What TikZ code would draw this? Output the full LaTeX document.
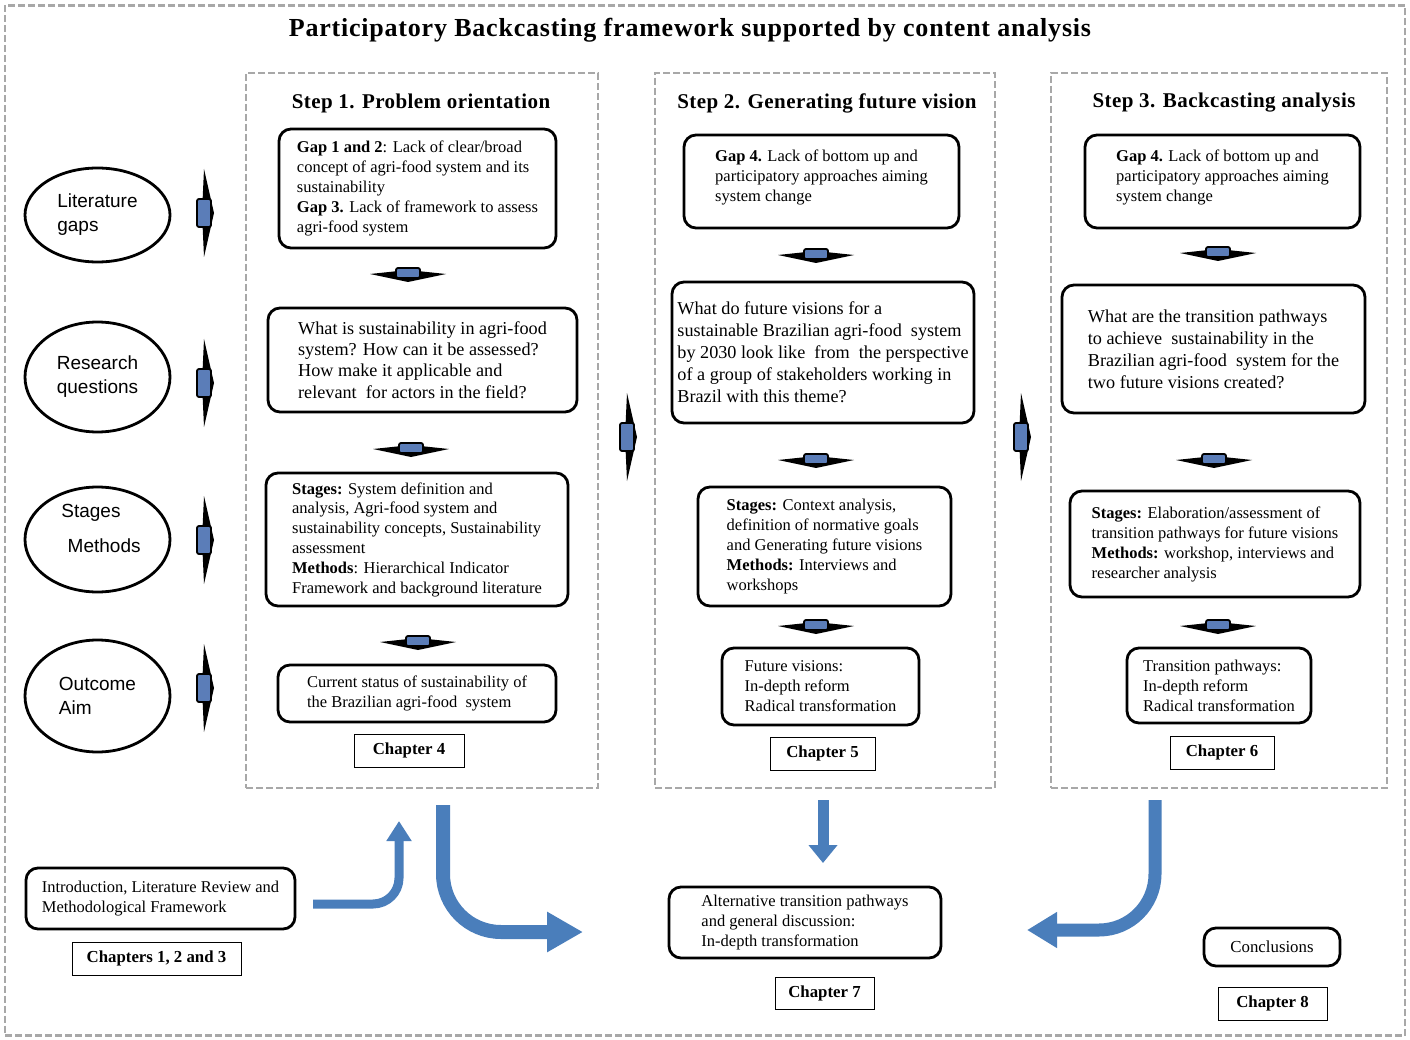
\documentclass[tikz,border=0pt]{standalone}
\usepackage{fontspec}
\setmainfont{Liberation Serif}
\newfontfamily\arialf{Liberation Sans}
\usetikzlibrary{arrows.meta,shapes.geometric}
\definecolor{bluec}{HTML}{4A7EBB}
\definecolor{chevblue}{HTML}{5B7DB8}
\definecolor{dashgray}{HTML}{A8A8A8}
\newcommand{\fsz}[2]{\fontsize{#1}{#2}\selectfont}
\tikzset{
  panel/.style={draw=dashgray, line width=2.5pt, dash pattern=on 7pt off 3pt, inner sep=0pt},
  rbox/.style={draw=black, line width=2.8pt, rounded corners=12pt, inner sep=2pt, align=left},
  chap/.style={draw=black, line width=1pt, inner sep=0pt, font=\bfseries\fsz{16.8}{18}},
  ell/.style={draw=black, ellipse, line width=2.8pt, inner sep=0pt, align=left, font=\arialf\fsz{19}{24}},
  barrow/.style={draw=bluec, line cap=butt},
  rightchev/.pic={
    \fill[black] (-1,-44) -- (9,0) -- (-1,44) -- (-3,0) -- cycle;
    \draw[black, line width=1.8pt, fill=chevblue, rounded corners=2pt] (-8,-14) rectangle (6,14);
  },
  downchev/.pic={
    \fill[black] (-38,0) -- (0,-4) -- (38,0) -- (0,8) -- cycle;
    \draw[black, line width=1.8pt, fill=chevblue, rounded corners=2pt] (-12,-6) rectangle (12,4);
  }
}
\begin{document}
\begin{tikzpicture}[x=1pt,y=-1pt]
\useasboundingbox (0,0) rectangle (1410,1040);
\fill[white] (0,0) rectangle (1410,1040);
\node[panel, minimum width=1400, minimum height=1030] (frame) at (705,520.5) {};
\node[font=\bfseries\fsz{26}{28}\addfontfeatures{LetterSpace=3}] (title) at (690,30) {Participatory Backcasting framework supported by content analysis};

% panels
\node[panel, minimum width=352, minimum height=715] (p1) at (422,430.5) {};
\node[panel, minimum width=340, minimum height=715] (p2) at (825,430.5) {};
\node[panel, minimum width=336, minimum height=715] (p3) at (1219,430.5) {};
\node[font=\bfseries\fsz{21}{23}\addfontfeatures{LetterSpace=2}] (h1) at (421,103) {Step 1. Problem orientation};
\node[font=\bfseries\fsz{21}{23}\addfontfeatures{LetterSpace=2}] (h2) at (827,103) {Step 2. Generating future vision};
\node[font=\bfseries\fsz{21}{23}\addfontfeatures{LetterSpace=2}] (h3) at (1224,103) {Step 3. Backcasting analysis};

% left ellipses
\node[ell, minimum width=145, minimum height=94] (e1) at (97.5,215) {Literature\\gaps};
\node[ell, minimum width=145, minimum height=110] (e2) at (97.5,377) {Research\\questions};
\node[ell, minimum width=145, minimum height=105] (e3) at (97.5,539.5) {};
\node[align=left, inner sep=0pt, font=\arialf\fsz{19}{35}] (e3t) at (101,528.5) {Stages\\\,\,Methods};
\node[ell, minimum width=145, minimum height=112] (e4) at (97.5,696) {Outcome\\Aim};

% right chevrons
\pic at (205,213) {rightchev};
\pic at (205,383) {rightchev};
\pic at (205,540) {rightchev};
\pic at (205,688) {rightchev};
\pic at (628,437) {rightchev};
\pic at (1022,437) {rightchev};

% Step 1
\node[rbox, minimum width=277, minimum height=119, font=\fsz{16.5}{20}] (g12) at (417.5,188.5)
 {\textbf{Gap 1 and 2}: Lack of clear/broad\\concept of agri-food system and its\\sustainability\\\textbf{Gap 3.} Lack of framework to assess\\agri-food system};
\node[rbox, minimum width=309, minimum height=104, font=\fsz{18.2}{21.3}] (rq1) at (422.5,360)
 {What is sustainability in agri-food\\system? How can it be assessed?\\How make it applicable and\\relevant\ \ for actors in the field?};
\node[rbox, minimum width=302, minimum height=133, font=\fsz{16.5}{19.8}] (st1) at (417,539.5)
 {\textbf{Stages:} System definition and\\analysis, Agri-food system and\\sustainability concepts, Sustainability\\assessment\\\textbf{Methods}: Hierarchical Indicator\\Framework and background literature};
\node[rbox, minimum width=278, minimum height=57, font=\fsz{16.5}{20}] (out1) at (417,693.5)
 {Current status of sustainability of\\the Brazilian agri-food\ \ system};
\node[chap, minimum width=110, minimum height=33] (c4) at (409,750.5) {Chapter 4};
\pic at (408,274) {downchev};
\pic at (411,449) {downchev};
\pic at (418,642) {downchev};

% Step 2
\node[rbox, minimum width=275, minimum height=93, font=\fsz{16.5}{20}] (g4a) at (821.5,181.5)
 {\textbf{Gap 4.} Lack of bottom up and\\participatory approaches aiming\\system change\\[-8pt]};
\node[rbox, minimum width=302, minimum height=141, font=\fsz{18.2}{22}] (rq2) at (823,352.5)
 {What do future visions for a\\sustainable Brazilian agri-food\ \ system\\by 2030 look like\ \ from\ \ the perspective\\of a group of stakeholders working in\\Brazil with this theme?};
\node[rbox, minimum width=253, minimum height=119, font=\fsz{16.5}{20}] (st2) at (824.5,546.5)
 {\textbf{Stages:} Context analysis,\\definition of normative goals\\and Generating future visions\\\textbf{Methods:} Interviews and\\workshops};
\node[rbox, minimum width=197, minimum height=77, font=\fsz{16.5}{20}] (out2) at (820.5,686.5)
 {Future visions:\\In-depth reform\\Radical transformation};
\node[chap, minimum width=105, minimum height=33] (c5) at (822.5,753.5) {Chapter 5};
\pic at (816,255) {downchev};
\pic at (816,460) {downchev};
\pic at (816,626) {downchev};

% Step 3
\node[rbox, minimum width=275, minimum height=93, font=\fsz{16.5}{20}] (g4b) at (1222.5,181.5)
 {\textbf{Gap 4.} Lack of bottom up and\\participatory approaches aiming\\system change\\[-8pt]};
\node[rbox, minimum width=303, minimum height=128, font=\fsz{18.2}{22}] (rq3) at (1213.5,349)
 {What are the transition pathways\\to achieve\ \ sustainability in the\\Brazilian agri-food\ \ system for the\\two future visions created?};
\node[rbox, minimum width=290, minimum height=106, font=\fsz{16.5}{20}] (st3) at (1215,544)
 {\textbf{Stages:} Elaboration/assessment of\\transition pathways for future visions\\\textbf{Methods:} workshop, interviews and\\researcher analysis};
\node[rbox, minimum width=184, minimum height=75, font=\fsz{16.5}{20}] (out3) at (1219,685.5)
 {Transition pathways:\\In-depth reform\\Radical transformation};
\node[chap, minimum width=104, minimum height=33] (c6) at (1222,752.5) {Chapter 6};
\pic at (1218,253) {downchev};
\pic at (1214,460) {downchev};
\pic at (1218,626) {downchev};

% bottom
\node[rbox, minimum width=269, minimum height=61, font=\fsz{16.5}{20}] (intro) at (160.5,898.5)
 {Introduction, Literature Review and\\Methodological Framework};
\node[chap, minimum width=169, minimum height=33] (c123) at (156.5,958.5) {Chapters 1, 2 and 3};
\node[rbox, minimum width=272, minimum height=71, font=\fsz{16.5}{20}] (alt) at (805,922.5)
 {Alternative transition pathways\\and general discussion:\\In-depth transformation};
\node[chap, minimum width=99, minimum height=32] (c7) at (824.5,993) {Chapter 7};
\node[rbox, minimum width=136, minimum height=38, align=center, font=\fsz{16.8}{20}] (concl) at (1272,947) {Conclusions};
\node[chap, minimum width=109, minimum height=33] (c8) at (1272.5,1003.5) {Chapter 8};

% blue arrows
\coordinate (a1s) at (313,904);
\coordinate (a1c) at (399,904);
\coordinate (a1e) at (399,821);
\draw[barrow, line width=9pt, rounded corners=26pt, -{Triangle[length=20pt,width=24pt]}] (a1s) -- (a1c) -- (a1e);
\coordinate (a2s) at (443,805);
\coordinate (a2c) at (443,932);
\coordinate (a2e) at (583,932);
\draw[barrow, line width=14pt, rounded corners=58pt, -{Triangle[length=36pt,width=38pt]}] (a2s) -- (a2c) -- (a2e);
\coordinate (a3s) at (823,800);
\coordinate (a3e) at (823,863);
\draw[barrow, line width=11pt, -{Triangle[length=18pt,width=28pt]}] (a3s) -- (a3e);
\coordinate (a4s) at (1155,800);
\coordinate (a4c) at (1155,930);
\coordinate (a4e) at (1027,930);
\draw[barrow, line width=13pt, rounded corners=56pt, -{Triangle[length=30pt,width=34pt]}] (a4s) -- (a4c) -- (a4e);
\end{tikzpicture}
\end{document}
